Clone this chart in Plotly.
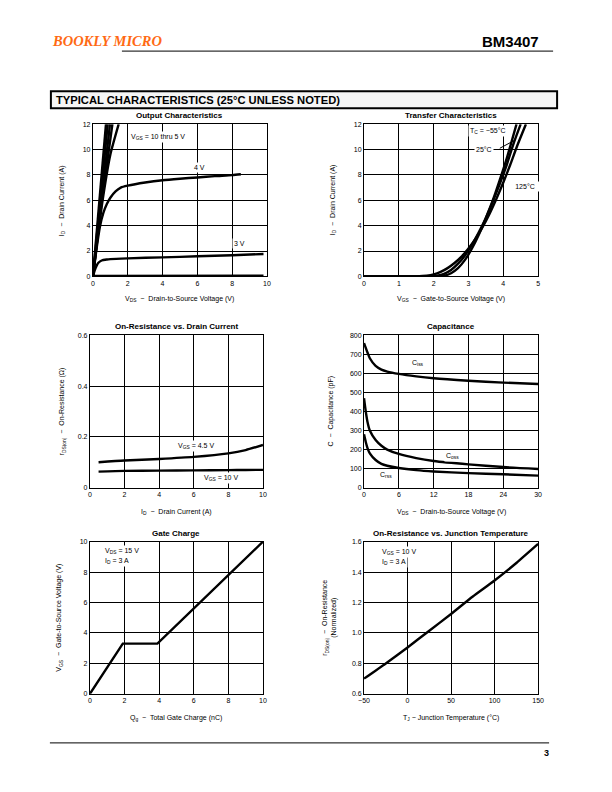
import plotly.graph_objects as go

W, H = 612, 792
FONT = "Liberation Sans, Arial, sans-serif"

# ---------------- data ----------------
# Output characteristics (VDS, ID)
out_vgs10_x = [0, 0.75]
out_vgs10_y = [0, 12]
out_vgs8_x = [0, 0.85]
out_vgs8_y = [0, 12]
out_vgs7_x = [0, 0.98]
out_vgs7_y = [0, 12]
out_vgs6_x = [0, 0.5, 1.12]
out_vgs6_y = [0, 5.8, 12]
out_vgs5_x = [0, 0.3, 0.6, 1.0, 1.48]
out_vgs5_y = [0, 3.4, 6.4, 9.6, 12]
out_vgs4_x = [0, 0.2, 0.4, 0.6, 0.8, 1.0, 1.3, 1.6, 2, 3, 4, 5, 6, 7, 8, 8.5]
out_vgs4_y = [0, 2.1, 3.9, 5.0, 5.7, 6.2, 6.7, 7.0, 7.15, 7.4, 7.58, 7.7, 7.8, 7.9, 7.98, 8.05]
out_vgs3_x = [0, 0.1, 0.2, 0.3, 0.5, 0.8, 1, 2, 4, 6, 8, 9.8]
out_vgs3_y = [0, 0.45, 0.8, 1.05, 1.25, 1.33, 1.36, 1.42, 1.5, 1.58, 1.67, 1.76]
out_vgs2_x = [0, 9.8]
out_vgs2_y = [0.04, 0.06]

# Transfer characteristics (VGS, ID)
tr_125_x = [0, 1.5, 1.8, 2.0, 2.2, 2.4, 2.6, 2.8, 3.0, 3.2, 3.4, 3.6, 3.8, 4.0, 4.2, 4.4, 4.65]
tr_125_y = [0, 0, 0.05, 0.15, 0.35, 0.65, 1.05, 1.55, 2.2, 2.95, 3.85, 4.9, 6.1, 7.4, 8.8, 10.3, 12]
tr_25_x = [0, 1.9, 2.1, 2.3, 2.5, 2.7, 2.9, 3.1, 3.3, 3.5, 3.7, 3.9, 4.1, 4.3, 4.5]
tr_25_y = [0, 0, 0.05, 0.2, 0.5, 1.0, 1.65, 2.5, 3.5, 4.6, 5.9, 7.3, 8.8, 10.5, 12]
tr_m55_x = [0, 2.1, 2.3, 2.5, 2.7, 2.9, 3.1, 3.3, 3.5, 3.7, 3.9, 4.1, 4.38]
tr_m55_y = [0, 0, 0.05, 0.25, 0.65, 1.3, 2.2, 3.3, 4.6, 6.0, 7.6, 9.3, 12]

# On-resistance vs drain current (ID, rDS(on))
ron_id = [0.5, 2, 4, 6, 8, 9, 10]
ron_vgs45 = [0.100, 0.107, 0.113, 0.121, 0.135, 0.148, 0.168]
ron_vgs10 = [0.063, 0.066, 0.067, 0.068, 0.069, 0.0695, 0.070]

# Capacitance (VDS, pF)
cap_v = [0, 0.3, 0.6, 1, 2, 3, 4, 6, 9, 12, 18, 24, 30]
cap_ciss = [760, 735, 710, 680, 640, 620, 610, 598, 585, 575, 562, 552, 545]
cap_coss = [470, 400, 345, 300, 250, 220, 200, 177, 155, 140, 122, 108, 98]
cap_crss = [280, 240, 208, 180, 145, 125, 115, 103, 92, 85, 76, 70, 63]

# Gate charge (Qg nC, VGS)
gc_q = [0, 1.9, 3.9, 10]
gc_v = [0, 3.3, 3.3, 10]

# On-resistance vs junction temperature (TJ, normalized)
rt_t = [-50, -25, 0, 25, 50, 75, 100, 125, 150]
rt_r = [0.70, 0.80, 0.905, 1.015, 1.125, 1.24, 1.345, 1.46, 1.585]

# ticks
out_xt = [0, 2, 4, 6, 8, 10]
out_yt = [0, 2, 4, 6, 8, 10, 12]
tr_xt = [0, 1, 2, 3, 4, 5]
ron_yt = [0, 0.2, 0.4, 0.6]
ron_ytl = ["0", "0.2", "0.4", "0.6"]
cap_xt = [0, 6, 12, 18, 24, 30]
cap_yt = [0, 100, 200, 300, 400, 500, 600, 700, 800]
gc_yt = [0, 2, 4, 6, 8, 10]
rt_xt = [-50, 0, 50, 100, 150]
rt_xtl = ["\u221250", "0", "50", "100", "150"]
rt_yt = [0.6, 0.8, 1.0, 1.2, 1.4, 1.6]
rt_ytl = ["0.6", "0.8", "1.0", "1.2", "1.4", "1.6"]

# ---------------- layout helpers ----------------
SX, SY = 0.98, 0.99   # compensation for how the page is photographed

def fx(px):
    return (306 + (px - 306) / SX) / W

def fy(py):
    return 1 - (396 + (py - 396) / SY) / H

panels = [
    ((93, 267, 124, 276), [0, 10], [0, 12], out_xt, None, out_yt, None, "Output Characteristics"),
    ((364, 538, 124, 276), [0, 5], [0, 12], tr_xt, None, out_yt, None, "Transfer Characteristics"),
    ((90, 263, 335, 487), [0, 10], [0, 0.6], out_xt, None, ron_yt, ron_ytl, "On-Resistance vs. Drain Current"),
    ((364, 538, 335, 487), [0, 30], [0, 800], cap_xt, None, cap_yt, None, "Capacitance"),
    ((90, 263, 541, 693), [0, 10], [0, 10], out_xt, None, gc_yt, None, "Gate Charge"),
    ((364, 538, 541, 693), [-50, 150], [0.6, 1.6], rt_xt, rt_xtl, rt_yt, rt_ytl, "On-Resistance vs. Junction Temperature"),
]

fig = go.Figure()
layout = dict(
    width=W, height=H, autosize=False, margin=dict(l=0, r=0, t=0, b=0, pad=0),
    paper_bgcolor="white", plot_bgcolor="white", showlegend=False,
    font=dict(family=FONT, color="black", size=7),
)
annotations = []
shapes = []

for i, (box, xr, yr, xt, xtl, yt, ytl, title) in enumerate(panels, start=1):
    x0, x1, y0, y1 = box
    ax = dict(
        domain=[fx(x0), fx(x1)], range=xr, anchor=f"y{i}",
        tickvals=xt, ticktext=xtl if xtl else [str(v) for v in xt],
        showgrid=True, gridcolor="black", gridwidth=1,
        showline=True, linecolor="black", linewidth=1, mirror=True,
        zeroline=False, ticks="", tickfont=dict(size=7, family=FONT),
        fixedrange=True,
    )
    ay = dict(
        domain=[fy(y1), fy(y0)], range=yr, anchor=f"x{i}",
        tickvals=yt, ticktext=ytl if ytl else [str(v) for v in yt],
        showgrid=True, gridcolor="black", gridwidth=1,
        showline=True, linecolor="black", linewidth=1, mirror=True,
        zeroline=False, ticks="", tickfont=dict(size=7, family=FONT),
        fixedrange=True,
    )
    layout[f"xaxis{i}"] = ax
    layout[f"yaxis{i}"] = ay
    annotations.append(dict(
        xref="paper", yref="paper", x=fx((x0 + x1) / 2), y=fy(y0 - 2),
        text=f"<b>{title}</b>", showarrow=False, xanchor="center", yanchor="bottom",
        font=dict(size=8, family=FONT),
    ))

LW = 2.4

def line(xs, ys, n):
    fig.add_trace(go.Scatter(
        x=xs, y=ys, mode="lines", xaxis=f"x{n}", yaxis=f"y{n}",
        line=dict(color="black", width=LW, shape="spline", smoothing=0.6),
        hoverinfo="skip",
    ))

for xs, ys in [(out_vgs10_x, out_vgs10_y), (out_vgs8_x, out_vgs8_y), (out_vgs7_x, out_vgs7_y),
               (out_vgs6_x, out_vgs6_y), (out_vgs5_x, out_vgs5_y), (out_vgs4_x, out_vgs4_y),
               (out_vgs3_x, out_vgs3_y), (out_vgs2_x, out_vgs2_y)]:
    line(xs, ys, 1)
for xs, ys in [(tr_125_x, tr_125_y), (tr_25_x, tr_25_y), (tr_m55_x, tr_m55_y)]:
    line(xs, ys, 2)
line(ron_id, ron_vgs45, 3)
line(ron_id, ron_vgs10, 3)
line(cap_v, cap_ciss, 4)
line(cap_v, cap_coss, 4)
line(cap_v, cap_crss, 4)
fig.add_trace(go.Scatter(x=gc_q, y=gc_v, mode="lines", xaxis="x5", yaxis="y5",
                         line=dict(color="black", width=LW), hoverinfo="skip"))
line(rt_t, rt_r, 6)

def note(n, x, y, text, bg=True, xanchor="center", yanchor="middle", size=7, width=None):
    a = dict(
        xref=f"x{n}", yref=f"y{n}", x=x, y=y, text=text, showarrow=False,
        xanchor=xanchor, yanchor=yanchor, bgcolor="white" if bg else None,
        font=dict(size=size, family=FONT), borderpad=1,
    )
    if width:
        a["width"] = width
    annotations.append(a)

note(1, 2.1, 11.0, "V<sub>GS</sub> = 10 thru 5 V", xanchor="left")
note(1, 6.1, 8.6, "4 V")
note(1, 8.4, 2.6, "3 V")
note(2, 3.55, 11.45, "T<sub>C</sub> = \u221255\u00b0C")
note(2, 3.45, 10.0, "25\u00b0C")
note(2, 4.63, 7.1, "125\u00b0C", width=30)
note(3, 5.0, 0.163, "V<sub>GS</sub> = 4.5 V", xanchor="left")
note(3, 6.5, 0.037, "V<sub>GS</sub> = 10 V", xanchor="left")
note(4, 9.3, 653, "C<sub>iss</sub>")
note(4, 15.3, 168, "C<sub>oss</sub>")
note(4, 3.8, 68, "C<sub>rss</sub>")
note(5, 0.75, 9.4, "V<sub>DS</sub> = 15 V", xanchor="left")
note(5, 0.75, 8.7, "I<sub>D</sub> = 3 A", xanchor="left")
note(6, -32, 1.535, "V<sub>GS</sub> = 10 V", xanchor="left")
note(6, -32, 1.465, "I<sub>D</sub> = 3 A", xanchor="left")

shapes.append(dict(type="line", xref="x2", yref="y2", x0=3.9, y0=10.1, x1=4.34, y1=10.75,
                   line=dict(color="black", width=1)))

def xtitle(box, text, py):
    x0, x1, y0, y1 = box
    annotations.append(dict(xref="paper", yref="paper", x=fx((x0 + x1) / 2), y=fy(py),
                            xanchor="center", yanchor="middle",
                            text=text, showarrow=False, font=dict(size=7, family=FONT)))

def ytitle(px, box, text):
    x0, x1, y0, y1 = box
    annotations.append(dict(xref="paper", yref="paper", x=fx(px), y=fy((y0 + y1) / 2),
                            xanchor="center", yanchor="middle",
                            text=text, showarrow=False, textangle=-90,
                            font=dict(size=7, family=FONT)))

b = [p[0] for p in panels]
xtitle(b[0], "V<sub>DS</sub>  \u2212  Drain-to-Source Voltage (V)", 299)
xtitle(b[1], "V<sub>GS</sub>  \u2212  Gate-to-Source Voltage (V)", 299)
xtitle(b[2], "I<sub>D</sub>  \u2212  Drain Current (A)", 511)
xtitle(b[3], "V<sub>DS</sub>  \u2212  Drain-to-Source Voltage (V)", 511)
xtitle(b[4], "Q<sub>g</sub>  \u2212  Total Gate Charge (nC)", 717)
xtitle(b[5], "T<sub>J</sub> \u2212 Junction Temperature (\u00b0C)", 717)

ytitle(62, b[0], "I<sub>D</sub>  \u2212  Drain Current (A)")
ytitle(333, b[1], "I<sub>D</sub>  \u2212  Drain Current (A)")
ytitle(62, b[2], "r<sub>DS(on)</sub>  \u2212  On-Resistance (\u03a9)")
ytitle(331, b[3], "C  \u2212  Capacitance (pF)")
ytitle(59, b[4], "V<sub>GS</sub>  \u2212  Gate-to-Source Voltage (V)")
ytitle(325, b[5], "r<sub>DS(on)</sub>  \u2212  On-Resistance")
ytitle(334, b[5], "(Normalized)")

# header
annotations.append(dict(xref="paper", yref="paper", x=fx(50), y=fy(41), xanchor="left", yanchor="middle",
                        text="<b><i>BOOKLY MICRO</i></b>", showarrow=False,
                        font=dict(size=14.5, family="Liberation Serif, Times New Roman, serif",
                                  color="#FF6A13")))
annotations.append(dict(xref="paper", yref="paper", x=fx(541), y=fy(41), xanchor="right", yanchor="middle",
                        text="<b>BM3407</b>", showarrow=False,
                        font=dict(size=15, family=FONT)))
shapes.append(dict(type="line", xref="paper", yref="paper", x0=fx(122), x1=fx(553),
                   y0=fy(51), y1=fy(51), line=dict(color="black", width=1)))
shapes.append(dict(type="rect", xref="paper", yref="paper", x0=fx(51), x1=fx(557),
                   y0=fy(108), y1=fy(91), fillcolor="#f5f5f5",
                   line=dict(color="black", width=2), layer="below"))
annotations.append(dict(xref="paper", yref="paper", x=fx(54), y=fy(99.5), xanchor="left", yanchor="middle",
                        text="<b>TYPICAL CHARACTERISTICS (25\u00b0C UNLESS NOTED)</b>",
                        showarrow=False, font=dict(size=11.2, family=FONT)))
shapes.append(dict(type="line", xref="paper", yref="paper", x0=fx(50), x1=fx(549),
                   y0=fy(742), y1=fy(742), line=dict(color="black", width=1)))
annotations.append(dict(xref="paper", yref="paper", x=fx(551), y=fy(752), xanchor="right", yanchor="middle",
                        text="<b>3</b>", showarrow=False, font=dict(size=9, family=FONT)))

layout["annotations"] = annotations
layout["shapes"] = shapes
fig.update_layout(**layout)

post = (
    "var h=document.documentElement,b=document.body;"
    "h.style.margin='0';h.style.padding='0';h.style.overflow='hidden';"
    "b.style.margin='0';b.style.padding='0';b.style.overflow='hidden';"
    "var g=document.querySelector('.plotly-graph-div');"
    "if(g){g.style.position='fixed';g.style.left='0px';g.style.top='0px';}"
)
fig.write_html("out.html", config={"staticPlot": True}, post_script=post)
